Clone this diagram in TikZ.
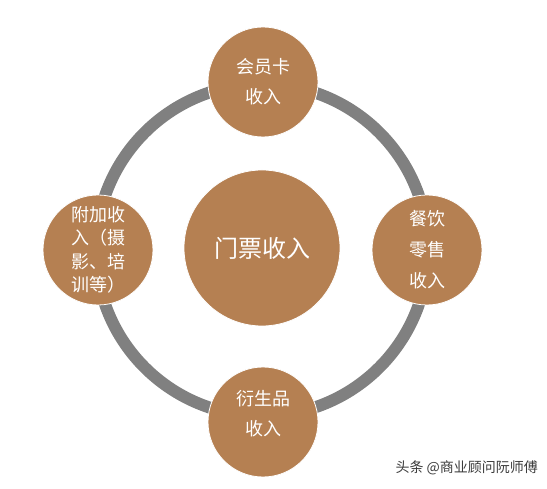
\documentclass[tikz,border=0pt]{standalone}
\usepackage{fontspec}
\newfontfamily\cjk{Noto Sans CJK SC}
\definecolor{brownfill}{RGB}{181,128,82}
\definecolor{ringgrey}{RGB}{128,128,128}
\definecolor{wmgrey}{RGB}{60,60,60}
\begin{document}
\begin{tikzpicture}[x=1pt,y=-1pt,
  bubble/.style={circle,fill=brownfill,draw=white,line width=0.8pt,inner sep=0pt,text=white,align=center,font=\cjk},
  small/.style={bubble,minimum size=110pt,font=\cjk\fontsize{18}{30}\selectfont},
  bubtext/.style={text=white,align=center,inner sep=0pt,font=\cjk\fontsize{18}{30}\selectfont}]
\useasboundingbox[fill=white] (0,0) rectangle (547,489);
\coordinate (c) at (262,250);
\draw[ringgrey,line width=12pt] (c) circle[radius=166];
\node[bubble,minimum size=156pt,font=\cjk\fontsize{24}{28}\selectfont] (center) at (262,248) {门票收入};
\node[small] (top) at (263,82) {会员卡\\收入};
\node[small,align=left,font=\cjk\fontsize{18}{23.5}\selectfont] (left) at (98,250) {附加收\\入（摄\\影、培\\训等）};
\node[small,font=\cjk\fontsize{18}{31}\selectfont] (right) at (427,250) {餐饮\\零售\\收入};
\node[small] (bottom) at (263,422) {};
\node[bubtext] (bottomtext) at ([yshift=8pt]bottom.center) {衍生品\\收入};
\node[font=\cjk\fontsize{14}{16}\selectfont,text=wmgrey,anchor=west] (wm) at (392,468) {头条 @商业顾问阮师傅};
\end{tikzpicture}
\end{document}
